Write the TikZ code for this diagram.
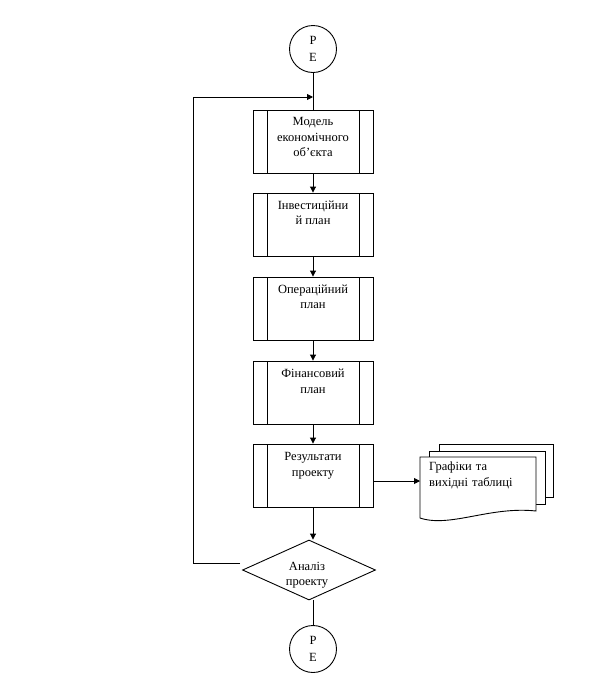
\documentclass[tikz,border=0pt]{standalone}
\usepackage{fontspec}
\setmainfont{Liberation Serif}
\usetikzlibrary{shapes.geometric,arrows.meta}
\begin{document}
\begin{tikzpicture}[x=1pt,y=-1pt,
  every node/.style={font=\fontsize{12.5}{15.5}\selectfont},
  ln/.style={line width=0.9pt},
  arr/.style={ln,-{Triangle[length=6pt,width=6pt]}},
  proc/.style={draw, ln, minimum width=120pt, minimum height=63pt, inner sep=0pt,
    path picture={
      \draw[ln] ([xshift=14pt]path picture bounding box.north west) -- ([xshift=14pt]path picture bounding box.south west);
      \draw[ln] ([xshift=-14pt]path picture bounding box.north east) -- ([xshift=-14pt]path picture bounding box.south east);
    }},
  term/.style={draw, ln, circle, minimum size=47pt, inner sep=0pt, align=center, font=\fontsize{12.5}{17}\selectfont},
  decision/.style={draw, ln, diamond, minimum width=133pt, minimum height=60pt, inner sep=0pt},
  page/.style={draw, ln, fill=white}
]
\useasboundingbox[fill=white] (0,0) rectangle (613,697);

\node[term] (c1) at (313,49) {P\\E};
\node[proc] (b1) at (313,141.5) {\parbox[c][48pt][t]{100pt}{\centering Модель\\економічного\\об’єкта}};
\node[proc] (b2) at (313,224.5) {\parbox[c][48pt][t]{100pt}{\centering Інвестиційни\\й план}};
\node[proc] (b3) at (313,308.5) {\parbox[c][48pt][t]{100pt}{\centering Операційний\\план}};
\node[proc] (b4) at (313,392.5) {\parbox[c][47pt][t]{100pt}{\centering Фінансовий\\план}};
\node[proc] (b5) at (313,475.5) {\parbox[c][46pt][t]{100pt}{\centering Результати\\проекту}};
\node[decision] (dia) at (309,570) {};
\node[align=center, inner sep=0pt] (diat) at (307,575) {Аналіз\\проекту};
\node[term] (c2) at (313,649) {P\\E};

% document (multi-page) shape
\draw[page] (439,444) rectangle (553,497);
\draw[page] (429,451) rectangle (545,504);
\draw[page] (420,457) -- (536,457) -- (536,511) .. controls (490,506) and (450,528) .. (420,518) -- cycle;
\node[anchor=north west, align=left, inner sep=0pt, text width=104pt] (doc) at (429,462) {Графіки та\\вихідні таблиці};
\coordinate (docw) at (420,481);

% connectors
\draw[ln] (c1) -- (b1);
\draw[arr] (b1) -- (b2);
\draw[arr] (b2) -- (b3);
\draw[arr] (b3) -- (b4);
\draw[arr] (b4) -- (b5);
\draw[arr] (b5) -- (b5.south |- dia.north);
\draw[ln] (c2 |- dia.south) -- (c2);
\draw[arr] (b5.east |- docw) -- (docw);
\coordinate (fbs) at (240,563);
\coordinate (fbe) at (313,97);
\draw[arr] (fbs) -- (193,563) |- (fbe);
\end{tikzpicture}
\end{document}
